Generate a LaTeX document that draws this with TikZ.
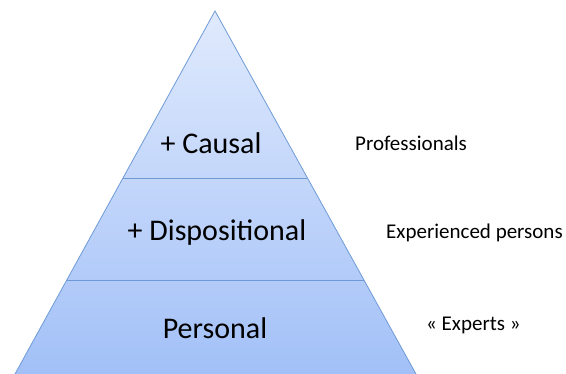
\documentclass[tikz,border=0pt]{standalone}
\usepackage{fontspec}
\setmainfont{Carlito}
\definecolor{topc}{RGB}{224,234,253}
\definecolor{botc}{RGB}{162,192,247}
\definecolor{edgec}{RGB}{110,155,215}
\tikzset{
  lvl/.style={font=\fontsize{30}{32}\selectfont, text=black, inner sep=0pt},
  side/.style={font=\fontsize{21}{23}\selectfont, text=black, inner sep=0pt, anchor=west},
  edge/.style={draw=edgec, line width=0.8pt}
}
\begin{document}
\begin{tikzpicture}[x=1pt,y=-1pt]
\useasboundingbox (0,0) rectangle (566,374);
\coordinate (apex) at (215,11);
\coordinate (bl) at (15,374);
\coordinate (br) at (416,374);
\begin{scope}
\clip (0,0) rectangle (566,374);
\shade[top color=topc, bottom color=botc] (apex) -- (br) -- (bl) -- cycle;
\draw[edge, line join=miter] (bl) -- (apex) -- (br);
\end{scope}
\path (apex) -- (bl) coordinate[pos=0.46006] (a1) coordinate[pos=0.74105] (a2);
\path (apex) -- (br) coordinate[pos=0.46006] (b1) coordinate[pos=0.74105] (b2);
\draw[edge] (a1) -- (b1);
\draw[edge] (a2) -- (b2);
\node[lvl] (causal) at (211,143) {+ Causal};
\node[lvl] (disp) at (217,233) {+ Dispositional};
\node[lvl] (pers) at (215,328) {Personal};
\node[side] (prof) at (355,143) {Professionals};
\node[side] (exp) at (386,233) {Experienced persons};
\node[side] (experts) at (426,325) {« Experts »};
\end{tikzpicture}
\end{document}
